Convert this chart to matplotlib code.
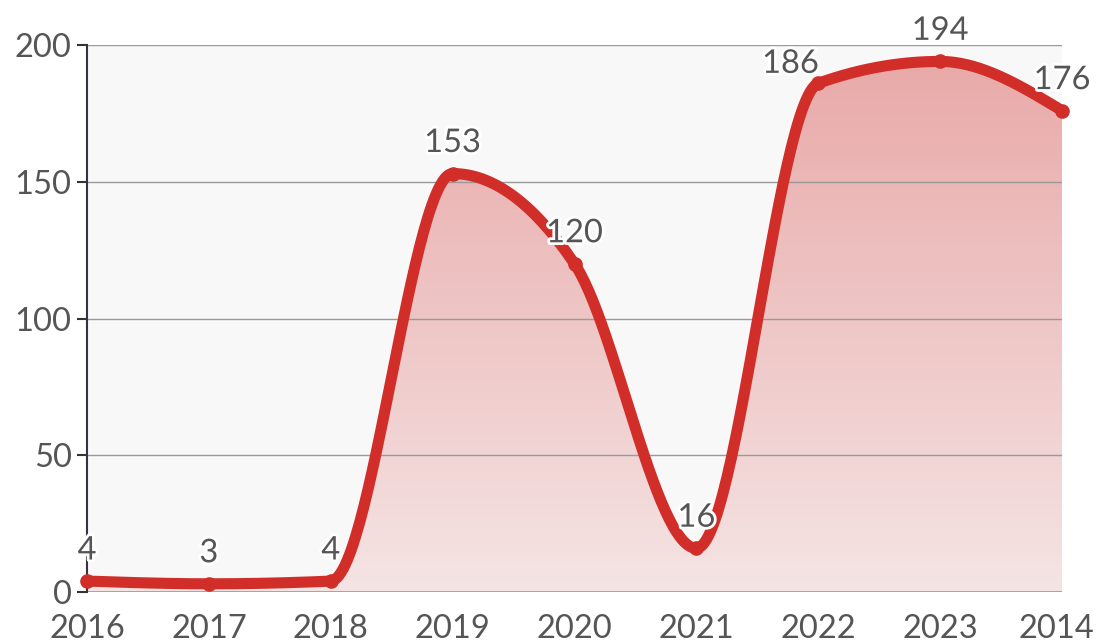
import numpy as np
import matplotlib
matplotlib.use("Agg")
import matplotlib.pyplot as plt
import matplotlib.patheffects as pe
import matplotlib.transforms as mtransforms
from matplotlib.colors import LinearSegmentedColormap

plt.rcParams['font.family'] = ['Lato', 'DejaVu Sans']

# dados
anos = ['2016', '2017', '2018', '2019', '2020', '2021', '2022', '2023', '2014']
valores = [4, 3, 4, 153, 120, 16, 186, 194, 176]
yticks = [0, 50, 100, 150, 200]

cor_linha = '#d12e29'
cor_texto = '#555555'


def monotone(x, y, n=60):
    # interpolação cúbica monotônica (estilo d3 curveMonotoneX)
    x = np.asarray(x, float)
    y = np.asarray(y, float)
    h = np.diff(x)
    s = np.diff(y) / h
    m = np.zeros_like(y)
    for i in range(1, len(y) - 1):
        p = (s[i - 1] * h[i] + s[i] * h[i - 1]) / (h[i - 1] + h[i])
        m[i] = (np.sign(s[i - 1]) + np.sign(s[i])) * min(abs(s[i - 1]), abs(s[i]), 0.5 * abs(p))
    m[0] = (3 * s[0] - m[1]) / 2
    m[-1] = (3 * s[-1] - m[-2]) / 2
    xs, ys = [], []
    for i in range(len(h)):
        t = np.linspace(0, 1, n)
        h00 = 2 * t**3 - 3 * t**2 + 1
        h10 = t**3 - 2 * t**2 + t
        h01 = -2 * t**3 + 3 * t**2
        h11 = t**3 - t**2
        xs.append(x[i] + t * h[i])
        ys.append(h00 * y[i] + h10 * h[i] * m[i] + h01 * y[i + 1] + h11 * h[i] * m[i + 1])
    return np.concatenate(xs), np.concatenate(ys)


x = np.arange(len(anos))
xs, ys = monotone(x, valores)

fig = plt.figure(figsize=(10.96, 6.43), dpi=100)
ax = fig.add_axes([0.0794, 0.0793, 0.8896, 0.8507])
ax.set_facecolor('#f8f8f8')

ax.set_xlim(0, len(anos) - 1)
ax.set_ylim(0, 200)

# preenchimento em gradiente recortado pela curva
grad = LinearSegmentedColormap.from_list('g', ['#f5e4e4', '#e8a8a7'])
img = ax.imshow(np.linspace(0, 1, 256).reshape(-1, 1), cmap=grad, aspect='auto',
                origin='lower', extent=[0, len(anos) - 1, 0, 200], zorder=1)
poly = ax.fill_between(xs, ys, 0, color='none', lw=0)
clip = poly.get_paths()[0]
img.set_clip_path(clip, transform=ax.transData)

for yt in yticks[1:]:
    ax.axhline(yt, color='#999999', lw=1, zorder=2)
ax.axhline(0, color='#999999', lw=1.2, zorder=2)

ax.plot(xs, ys, color=cor_linha, lw=8, solid_capstyle='round', solid_joinstyle='round', zorder=4)
ax.plot(x, valores, 'o', color=cor_linha, ms=9.5, zorder=5, clip_on=False)

for i, (xi, v) in enumerate(zip(x, valores)):
    # o rótulo de 2022 fica deslocado para a esquerda, como no original
    desl = (-20, 14) if i == 6 else (0, 22)
    ax.annotate(str(v), (xi, v), xytext=desl, textcoords='offset points',
                ha='center', va='center', fontsize=23.5, color=cor_texto, zorder=6,
                annotation_clip=False,
                path_effects=[pe.withStroke(linewidth=4, foreground='white')])

ax.set_yticks(yticks)
ax.set_xticks(x)
ax.set_xticklabels(anos)
ax.tick_params(axis='y', length=7, width=1.5, color='#333333', pad=4, labelsize=23.5, labelcolor=cor_texto)
ax.tick_params(axis='x', length=0, pad=16, labelsize=23.5, labelcolor=cor_texto)

# último rótulo do eixo x um pouco para dentro
ultimo = ax.get_xticklabels()[-1]
ultimo.set_transform(ultimo.get_transform() +
                     mtransforms.ScaledTranslation(-6 / 100, 0, fig.dpi_scale_trans))

for lado in ['top', 'right', 'bottom']:
    ax.spines[lado].set_visible(False)
ax.spines['left'].set_color('#333344')
ax.spines['left'].set_linewidth(1.5)
ax.spines['left'].set_zorder(3)

fig.savefig('out.png', dpi=100)
